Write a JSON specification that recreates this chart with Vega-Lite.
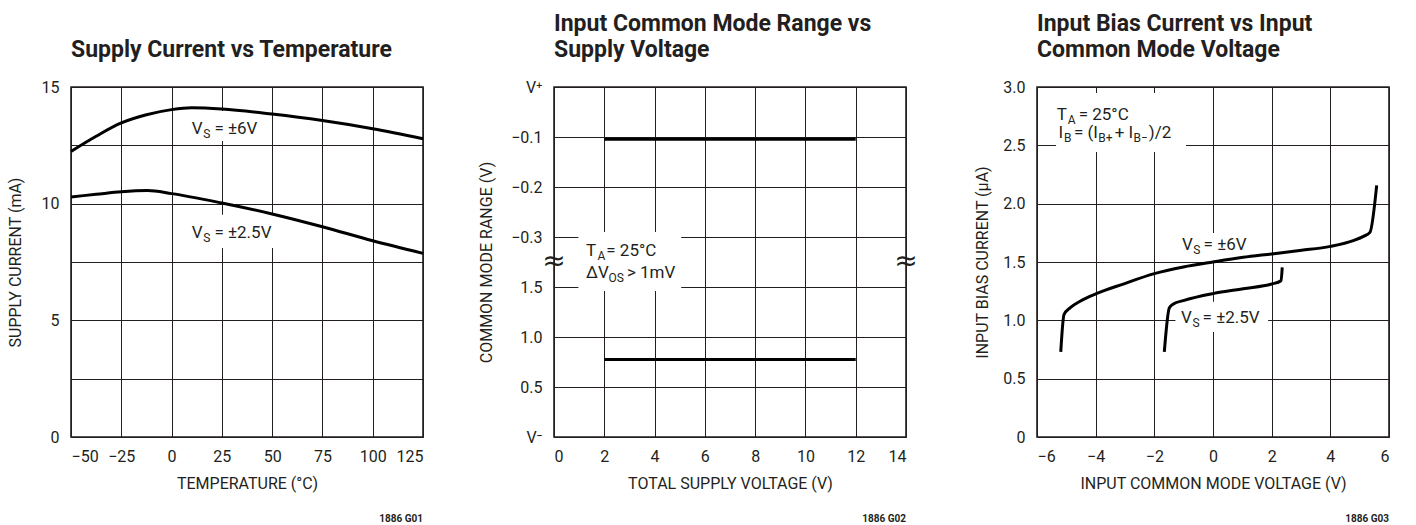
{
  "$schema": "https://vega.github.io/schema/vega-lite/v6.json",
  "padding": {"left": 6, "top": 12, "right": 4, "bottom": 0},
  "background": "white",
  "bounds": "flush",
  "spacing": 131,
  "config": {
    "font": "Roboto",
    "view": {"stroke": "#231f20", "strokeWidth": 1.6},
    "axis": {
      "grid": true, "gridColor": "#231f20", "gridOpacity": 1, "gridWidth": 1,
      "domain": false, "ticks": false, "tickSize": 0,
      "labelFontSize": 16, "labelColor": "#231f20", "labelFont": "Roboto",
      "titleFontSize": 16, "titleFontWeight": "normal", "titleColor": "#231f20", "titleFont": "Roboto"
    },
    "axisX": {"labelPadding": 11, "titlePadding": 11},
    "axisY": {"labelPadding": 12, "titlePadding": 16},
    "title": {"anchor": "start", "fontSize": 23, "fontWeight": "bold", "color": "#231f20", "font": "Roboto", "lineHeight": 26, "offset": 17, "frame": "group"},
    "text": {"font": "Roboto", "color": "#231f20"}
  },
  "datasets": {
    "curves1": [
      {"s": "6V", "x": -50, "y": 12.24}, {"s": "6V", "x": -37.5, "y": 12.89}, {"s": "6V", "x": -25, "y": 13.46},
      {"s": "6V", "x": -12.5, "y": 13.81}, {"s": "6V", "x": 0, "y": 14.03}, {"s": "6V", "x": 10, "y": 14.11},
      {"s": "6V", "x": 25, "y": 14.06}, {"s": "6V", "x": 50, "y": 13.84}, {"s": "6V", "x": 75, "y": 13.56},
      {"s": "6V", "x": 100, "y": 13.21}, {"s": "6V", "x": 125, "y": 12.78},
      {"s": "2.5V", "x": -50, "y": 10.29}, {"s": "2.5V", "x": -37.5, "y": 10.4}, {"s": "2.5V", "x": -25, "y": 10.51},
      {"s": "2.5V", "x": -12, "y": 10.56}, {"s": "2.5V", "x": 0, "y": 10.43}, {"s": "2.5V", "x": 25, "y": 10.03},
      {"s": "2.5V", "x": 50, "y": 9.56}, {"s": "2.5V", "x": 75, "y": 9.01}, {"s": "2.5V", "x": 100, "y": 8.41},
      {"s": "2.5V", "x": 125, "y": 7.87}
    ],
    "boxes1": [
      {"x": 8.7, "x2": 45, "y": 12.69, "y2": 13.97},
      {"x": 8.7, "x2": 51.9, "y": 8.1, "y2": 9.53}
    ],
    "main1": [
      {"x": 10.0, "y": 13.0, "text": "V"}, {"x": 21.3, "y": 13.0, "text": "= ±6V"},
      {"x": 10.0, "y": 8.53, "text": "V"}, {"x": 21.3, "y": 8.53, "text": "= ±2.5V"}
    ],
    "sub1": [
      {"x": 15.7, "y": 12.81, "text": "S"}, {"x": 15.7, "y": 8.34, "text": "S"}
    ],
    "curves2": [
      {"s": "upper", "x": 2, "y": 5.953}, {"s": "upper", "x": 12, "y": 5.953},
      {"s": "lower", "x": 2, "y": 1.55}, {"s": "lower", "x": 12, "y": 1.55}
    ],
    "boxes2": [{"x": 0.97, "x2": 5.06, "y": 2.92, "y2": 4.1}],
    "main2": [
      {"x": 1.272, "y": 3.62, "text": "T"}, {"x": 2.08, "y": 3.62, "text": "= 25°C"},
      {"x": 1.272, "y": 3.18, "text": "ΔV"}, {"x": 2.9, "y": 3.18, "text": "> 1mV"}
    ],
    "sub2": [
      {"x": 1.73, "y": 3.54, "text": "A"}, {"x": 2.17, "y": 3.1, "text": "OS"}
    ],
    "breaks2": [{"x": 0, "y": 3.5, "text": "≈"}, {"x": 14, "y": 3.5, "text": "≈"}],
    "curves3": [
      {"s": "6V", "x": -5.19, "y": 0.729}, {"s": "6V", "x": -5.08, "y": 1.049}, {"s": "6V", "x": -4.875, "y": 1.106},
      {"s": "6V", "x": -4.53, "y": 1.163}, {"s": "6V", "x": -4.0, "y": 1.226}, {"s": "6V", "x": -3.06, "y": 1.311},
      {"s": "6V", "x": -2.0, "y": 1.4}, {"s": "6V", "x": -1.01, "y": 1.457}, {"s": "6V", "x": 0, "y": 1.5},
      {"s": "6V", "x": 1.03, "y": 1.54}, {"s": "6V", "x": 2.0, "y": 1.569}, {"s": "6V", "x": 3.02, "y": 1.6},
      {"s": "6V", "x": 4.0, "y": 1.634}, {"s": "6V", "x": 4.78, "y": 1.683}, {"s": "6V", "x": 5.13, "y": 1.72},
      {"s": "6V", "x": 5.35, "y": 1.754}, {"s": "6V", "x": 5.58, "y": 2.157},
      {"s": "2.5V", "x": -1.66, "y": 0.729}, {"s": "2.5V", "x": -1.49, "y": 1.106}, {"s": "2.5V", "x": -1.35, "y": 1.14},
      {"s": "2.5V", "x": -1.01, "y": 1.169}, {"s": "2.5V", "x": 0, "y": 1.229}, {"s": "2.5V", "x": 1.03, "y": 1.271},
      {"s": "2.5V", "x": 2.0, "y": 1.311}, {"s": "2.5V", "x": 2.32, "y": 1.34}, {"s": "2.5V", "x": 2.36, "y": 1.454}
    ],
    "boxes3": [
      {"x": -5.35, "x2": -0.92, "y": 2.443, "y2": 2.949},
      {"x": -1.2, "x2": 1.26, "y": 1.51, "y2": 1.749},
      {"x": -1.28, "x2": 1.88, "y": 0.9, "y2": 1.16}
    ],
    "main3": [
      {"x": -5.33, "y": 2.717, "text": "T"}, {"x": -4.58, "y": 2.717, "text": "= 25°C"},
      {"x": -5.264, "y": 2.563, "text": "I"}, {"x": -4.74, "y": 2.563, "text": "= (I"},
      {"x": -3.35, "y": 2.563, "text": "+ I"}, {"x": -2.19, "y": 2.563, "text": ")/2"},
      {"x": -1.056, "y": 1.603, "text": "V"}, {"x": -0.32, "y": 1.603, "text": "= ±6V"},
      {"x": -1.09, "y": 0.977, "text": "V"}, {"x": -0.354, "y": 0.977, "text": "= ±2.5V"}
    ],
    "sub3": [
      {"x": -4.95, "y": 2.683, "text": "A"}, {"x": -5.08, "y": 2.528, "text": "B"},
      {"x": -3.91, "y": 2.528, "text": "B+"}, {"x": -2.71, "y": 2.528, "text": "B−"},
      {"x": -0.67, "y": 1.569, "text": "S"}, {"x": -0.70, "y": 0.939, "text": "S"}
    ],
    "notes": [
      {"panel": 1, "x": 125, "y": 0, "text": "1886 G01"},
      {"panel": 2, "x": 14, "y": 0, "text": "1886 G02"},
      {"panel": 3, "x": 6, "y": 0, "text": "1886 G03"}
    ]
  },
  "hconcat": [
    {
      "width": 352, "height": 350,
      "title": {"text": "Supply Current vs Temperature"},
      "encoding": {
        "x": {"field": "x", "type": "quantitative",
          "scale": {"domain": [-50, 125], "nice": false, "zero": false},
          "axis": {"values": [-50, -25, 0, 25, 50, 75, 100, 125], "title": "TEMPERATURE (°C)"}},
        "y": {"field": "y", "type": "quantitative",
          "scale": {"domain": [0, 15], "nice": false},
          "axis": {"values": [0, 2.5, 5, 7.5, 10, 12.5, 15], "labelExpr": "datum.value % 5 == 0 ? datum.label : ''", "title": "SUPPLY CURRENT (mA)", "titlePadding": 18}}
      },
      "layer": [
        {"data": {"name": "boxes1"}, "mark": {"type": "rect", "fill": "white"}, "encoding": {"x2": {"field": "x2"}, "y2": {"field": "y2"}}},
        {"data": {"name": "curves1"}, "mark": {"type": "line", "color": "#000", "strokeWidth": 3, "interpolate": "monotone"}, "encoding": {"detail": {"field": "s"}}},
        {"data": {"name": "main1"}, "mark": {"type": "text", "align": "left", "baseline": "alphabetic", "fontSize": 17}, "encoding": {"text": {"field": "text"}}},
        {"data": {"name": "sub1"}, "mark": {"type": "text", "align": "left", "baseline": "alphabetic", "fontSize": 12}, "encoding": {"text": {"field": "text"}}},
        {"data": {"name": "notes"}, "transform": [{"filter": "datum.panel == 1"}], "mark": {"type": "text", "align": "right", "baseline": "top", "fontSize": 10, "fontWeight": "bold", "dy": 77}, "encoding": {"text": {"field": "text"}}}
      ]
    },
    {
      "width": 352, "height": 350,
      "title": {"text": ["Input Common Mode Range vs", "Supply Voltage"]},
      "encoding": {
        "x": {"field": "x", "type": "quantitative",
          "scale": {"domain": [0, 14], "nice": false, "zero": false},
          "axis": {"values": [0, 2, 4, 6, 8, 10, 12, 14], "title": "TOTAL SUPPLY VOLTAGE (V)"}},
        "y": {"field": "y", "type": "quantitative",
          "scale": {"domain": [0, 7], "nice": false},
          "axis": {"values": [0, 1, 2, 3, 4, 5, 6, 7], "labelExpr": "['V⁻','0.5','1.0','1.5','−0.3','−0.2','−0.1','V⁺'][datum.value]", "title": "COMMON MODE RANGE (V)", "titlePadding": 16}}
      },
      "layer": [
        {"data": {"name": "boxes2"}, "mark": {"type": "rect", "fill": "white"}, "encoding": {"x2": {"field": "x2"}, "y2": {"field": "y2"}}},
        {"data": {"name": "curves2"}, "mark": {"type": "line", "color": "#000", "strokeWidth": 3}, "encoding": {"detail": {"field": "s"}}},
        {"data": {"name": "main2"}, "mark": {"type": "text", "align": "left", "baseline": "alphabetic", "fontSize": 17}, "encoding": {"text": {"field": "text"}}},
        {"data": {"name": "sub2"}, "mark": {"type": "text", "align": "left", "baseline": "alphabetic", "fontSize": 12}, "encoding": {"text": {"field": "text"}}},
        {"data": {"name": "breaks2"}, "mark": {"type": "text", "align": "center", "baseline": "middle", "fontSize": 28, "font": "DejaVu Sans"}, "encoding": {"text": {"field": "text"}}},
        {"data": {"name": "notes"}, "transform": [{"filter": "datum.panel == 2"}], "mark": {"type": "text", "align": "right", "baseline": "top", "fontSize": 10, "fontWeight": "bold", "dy": 77}, "encoding": {"text": {"field": "text"}}}
      ]
    },
    {
      "width": 352, "height": 350,
      "title": {"text": ["Input Bias Current vs Input", "Common Mode Voltage"]},
      "encoding": {
        "x": {"field": "x", "type": "quantitative",
          "scale": {"domain": [-6, 6], "nice": false, "zero": false},
          "axis": {"values": [-6, -4, -2, 0, 2, 4, 6], "title": "INPUT COMMON MODE VOLTAGE (V)"}},
        "y": {"field": "y", "type": "quantitative",
          "scale": {"domain": [0, 3], "nice": false},
          "axis": {"values": [0, 0.5, 1, 1.5, 2, 2.5, 3], "labelExpr": "datum.value == 0 ? '0' : format(datum.value, '.1f')", "title": "INPUT BIAS CURRENT (μA)", "titlePadding": 12}}
      },
      "layer": [
        {"data": {"name": "boxes3"}, "mark": {"type": "rect", "fill": "white"}, "encoding": {"x2": {"field": "x2"}, "y2": {"field": "y2"}}},
        {"data": {"name": "curves3"}, "mark": {"type": "line", "color": "#000", "strokeWidth": 3, "interpolate": "monotone"}, "encoding": {"detail": {"field": "s"}}},
        {"data": {"name": "main3"}, "mark": {"type": "text", "align": "left", "baseline": "alphabetic", "fontSize": 17}, "encoding": {"text": {"field": "text"}}},
        {"data": {"name": "sub3"}, "mark": {"type": "text", "align": "left", "baseline": "alphabetic", "fontSize": 12}, "encoding": {"text": {"field": "text"}}},
        {"data": {"name": "notes"}, "transform": [{"filter": "datum.panel == 3"}], "mark": {"type": "text", "align": "right", "baseline": "top", "fontSize": 10, "fontWeight": "bold", "dy": 77}, "encoding": {"text": {"field": "text"}}}
      ]
    }
  ]
}
